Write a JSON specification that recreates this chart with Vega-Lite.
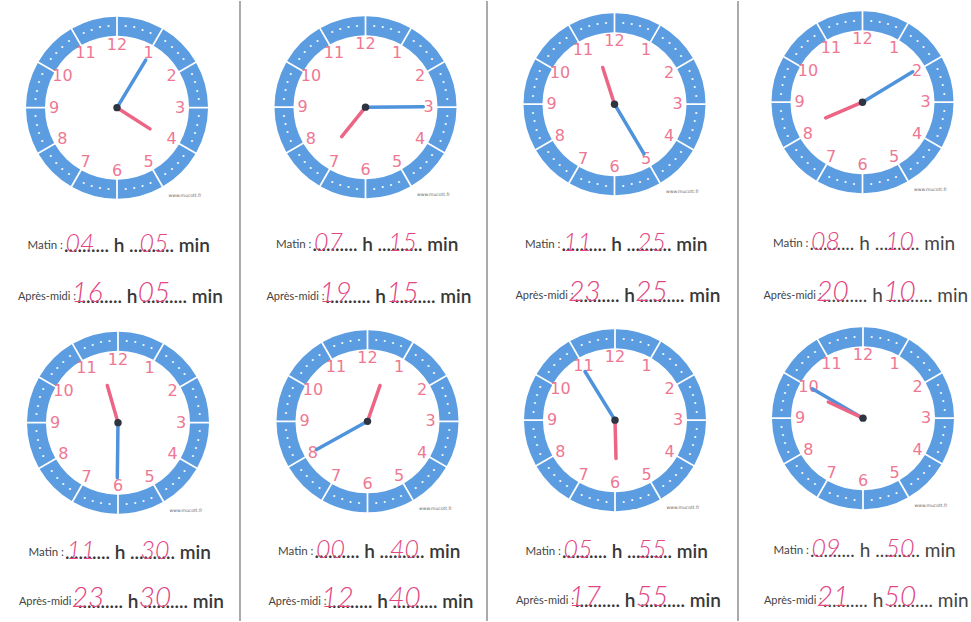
{
  "$schema": "https://vega.github.io/schema/vega-lite/v6.json",
  "width": 971,
  "height": 622,
  "autosize": {"type": "fit", "contains": "padding"},
  "padding": 0,
  "background": "white",
  "config": {"view": {"stroke": null}},
  "datasets": {
    "clocks": [
      {"id": 1, "cx": 117, "cy": 107, "mx": 145.7, "my": 59.3, "hx": 150, "hy": 128.3, "ah": "04", "am": "05", "bh": "16", "bm": "05", "ya": 246, "yb": 297},
      {"id": 2, "cx": 365.5, "cy": 106.5, "mx": 423.3, "my": 106, "hx": 341.7, "hy": 136, "ah": "07", "am": "15", "bh": "19", "bm": "15", "ya": 245, "yb": 296.7},
      {"id": 3, "cx": 614.5, "cy": 103.5, "mx": 644, "my": 153.3, "hx": 602.7, "hy": 66.7, "ah": "11", "am": "25", "bh": "23", "bm": "25", "ya": 244.3, "yb": 296},
      {"id": 4, "cx": 862.5, "cy": 101.5, "mx": 912.7, "my": 71, "hx": 825.7, "hy": 117.3, "ah": "08", "am": "10", "bh": "20", "bm": "10", "ya": 243.3, "yb": 295.7},
      {"id": 5, "cx": 118, "cy": 423, "mx": 117.3, "my": 478.3, "hx": 107.3, "hy": 385.7, "ah": "11", "am": "30", "bh": "23", "bm": "30", "ya": 553.3, "yb": 602.7},
      {"id": 6, "cx": 367.5, "cy": 421.7, "mx": 316.7, "my": 450, "hx": 380, "hy": 385.7, "ah": "00", "am": "40", "bh": "12", "bm": "40", "ya": 553, "yb": 602.7},
      {"id": 7, "cx": 615, "cy": 420.5, "mx": 585, "my": 371.7, "hx": 616, "hy": 459, "ah": "05", "am": "55", "bh": "17", "bm": "55", "ya": 552.3, "yb": 601.7},
      {"id": 8, "cx": 863, "cy": 418.5, "mx": 812.3, "my": 389, "hx": 828.3, "hy": 402.3, "ah": "09", "am": "50", "bh": "21", "bm": "50", "ya": 551.7, "yb": 601.7}
    ],
    "five": [
      {"m": 0, "n": 12, "e": 5, "c": [1,2,3,4,5,6,7,8]},
      {"m": 5, "n": 1, "e": 10, "c": [1,2,3,4,5,6,7,8]},
      {"m": 10, "n": 2, "e": 15, "c": [1,2,3,4,5,6,7,8]},
      {"m": 15, "n": 3, "e": 20, "c": [1,2,3,4,5,6,7,8]},
      {"m": 20, "n": 4, "e": 25, "c": [1,2,3,4,5,6,7,8]},
      {"m": 25, "n": 5, "e": 30, "c": [1,2,3,4,5,6,7,8]},
      {"m": 30, "n": 6, "e": 35, "c": [1,2,3,4,5,6,7,8]},
      {"m": 35, "n": 7, "e": 40, "c": [1,2,3,4,5,6,7,8]},
      {"m": 40, "n": 8, "e": 45, "c": [1,2,3,4,5,6,7,8]},
      {"m": 45, "n": 9, "e": 50, "c": [1,2,3,4,5,6,7,8]},
      {"m": 50, "n": 10, "e": 55, "c": [1,2,3,4,5,6,7,8]},
      {"m": 55, "n": 11, "e": 60, "c": [1,2,3,4,5,6,7,8]}
    ],
    "dots": [
      {"m": 1, "c": [1,2,3,4,5,6,7,8]}, {"m": 2, "c": [1,2,3,4,5,6,7,8]}, {"m": 3, "c": [1,2,3,4,5,6,7,8]}, {"m": 4, "c": [1,2,3,4,5,6,7,8]},
      {"m": 6, "c": [1,2,3,4,5,6,7,8]}, {"m": 7, "c": [1,2,3,4,5,6,7,8]}, {"m": 8, "c": [1,2,3,4,5,6,7,8]}, {"m": 9, "c": [1,2,3,4,5,6,7,8]},
      {"m": 11, "c": [1,2,3,4,5,6,7,8]}, {"m": 12, "c": [1,2,3,4,5,6,7,8]}, {"m": 13, "c": [1,2,3,4,5,6,7,8]}, {"m": 14, "c": [1,2,3,4,5,6,7,8]},
      {"m": 16, "c": [1,2,3,4,5,6,7,8]}, {"m": 17, "c": [1,2,3,4,5,6,7,8]}, {"m": 18, "c": [1,2,3,4,5,6,7,8]}, {"m": 19, "c": [1,2,3,4,5,6,7,8]},
      {"m": 21, "c": [1,2,3,4,5,6,7,8]}, {"m": 22, "c": [1,2,3,4,5,6,7,8]}, {"m": 23, "c": [1,2,3,4,5,6,7,8]}, {"m": 24, "c": [1,2,3,4,5,6,7,8]},
      {"m": 26, "c": [1,2,3,4,5,6,7,8]}, {"m": 27, "c": [1,2,3,4,5,6,7,8]}, {"m": 28, "c": [1,2,3,4,5,6,7,8]}, {"m": 29, "c": [1,2,3,4,5,6,7,8]},
      {"m": 31, "c": [1,2,3,4,5,6,7,8]}, {"m": 32, "c": [1,2,3,4,5,6,7,8]}, {"m": 33, "c": [1,2,3,4,5,6,7,8]}, {"m": 34, "c": [1,2,3,4,5,6,7,8]},
      {"m": 36, "c": [1,2,3,4,5,6,7,8]}, {"m": 37, "c": [1,2,3,4,5,6,7,8]}, {"m": 38, "c": [1,2,3,4,5,6,7,8]}, {"m": 39, "c": [1,2,3,4,5,6,7,8]},
      {"m": 41, "c": [1,2,3,4,5,6,7,8]}, {"m": 42, "c": [1,2,3,4,5,6,7,8]}, {"m": 43, "c": [1,2,3,4,5,6,7,8]}, {"m": 44, "c": [1,2,3,4,5,6,7,8]},
      {"m": 46, "c": [1,2,3,4,5,6,7,8]}, {"m": 47, "c": [1,2,3,4,5,6,7,8]}, {"m": 48, "c": [1,2,3,4,5,6,7,8]}, {"m": 49, "c": [1,2,3,4,5,6,7,8]},
      {"m": 51, "c": [1,2,3,4,5,6,7,8]}, {"m": 52, "c": [1,2,3,4,5,6,7,8]}, {"m": 53, "c": [1,2,3,4,5,6,7,8]}, {"m": 54, "c": [1,2,3,4,5,6,7,8]},
      {"m": 56, "c": [1,2,3,4,5,6,7,8]}, {"m": 57, "c": [1,2,3,4,5,6,7,8]}, {"m": 58, "c": [1,2,3,4,5,6,7,8]}, {"m": 59, "c": [1,2,3,4,5,6,7,8]}
    ],
    "seps": [{"x": 240}, {"x": 487}, {"x": 738}]
  },
  "layer": [
    {
      "data": {"name": "seps"},
      "mark": {"type": "rule", "stroke": "#7d7d7d", "strokeWidth": 1.3},
      "encoding": {
        "x": {"field": "x", "type": "quantitative", "scale": {"domain": [0, 971], "nice": false, "zero": false}, "axis": null}
      }
    },
    {
      "data": {"name": "five"},
      "transform": [
        {"flatten": ["c"]},
        {"lookup": "c", "from": {"data": {"name": "clocks"}, "key": "id", "fields": ["cx", "cy"]}}
      ],
      "mark": {"type": "arc", "radius": 91, "radius2": 72, "padAngle": 0.015, "fill": "#5b9de0"},
      "encoding": {
        "x": {"field": "cx", "type": "quantitative", "scale": {"domain": [0, 971], "nice": false, "zero": false}, "axis": null},
        "y": {"field": "cy", "type": "quantitative", "scale": {"domain": [0, 622], "nice": false, "zero": false, "reverse": true}, "axis": null},
        "theta": {"field": "m", "type": "quantitative", "stack": null, "scale": {"domain": [0, 60], "range": [0, 6.283185]}},
        "theta2": {"field": "e"}
      }
    },
    {
      "data": {"name": "dots"},
      "transform": [
        {"flatten": ["c"]},
        {"lookup": "c", "from": {"data": {"name": "clocks"}, "key": "id", "fields": ["cx", "cy"]}}
      ],
      "mark": {"type": "text", "text": "•", "fontSize": 6.5, "fill": "white", "radius": 82, "align": "center", "baseline": "middle"},
      "encoding": {
        "x": {"field": "cx", "type": "quantitative", "scale": {"domain": [0, 971], "nice": false, "zero": false}, "axis": null},
        "y": {"field": "cy", "type": "quantitative", "scale": {"domain": [0, 622], "nice": false, "zero": false, "reverse": true}, "axis": null},
        "theta": {"field": "m", "type": "quantitative", "stack": null, "scale": {"domain": [0, 60], "range": [0, 6.283185]}}
      }
    },
    {
      "data": {"name": "five"},
      "transform": [
        {"flatten": ["c"]},
        {"lookup": "c", "from": {"data": {"name": "clocks"}, "key": "id", "fields": ["cx", "cy"]}}
      ],
      "mark": {"type": "text", "fontSize": 16, "font": "DejaVu Sans", "fill": "#ee7893", "radius": 63, "align": "center", "baseline": "middle"},
      "encoding": {
        "x": {"field": "cx", "type": "quantitative", "scale": {"domain": [0, 971], "nice": false, "zero": false}, "axis": null},
        "y": {"field": "cy", "type": "quantitative", "scale": {"domain": [0, 622], "nice": false, "zero": false, "reverse": true}, "axis": null},
        "theta": {"field": "m", "type": "quantitative", "stack": null, "scale": {"domain": [0, 60], "range": [0, 6.283185]}},
        "text": {"field": "n"}
      }
    },
    {
      "data": {"name": "clocks"},
      "mark": {"type": "rule", "stroke": "#4f93dc", "strokeWidth": 3.5, "strokeCap": "round"},
      "encoding": {
        "x": {"field": "cx", "type": "quantitative", "scale": {"domain": [0, 971], "nice": false, "zero": false}, "axis": null},
        "y": {"field": "cy", "type": "quantitative", "scale": {"domain": [0, 622], "nice": false, "zero": false, "reverse": true}, "axis": null},
        "x2": {"field": "mx"},
        "y2": {"field": "my"}
      }
    },
    {
      "data": {"name": "clocks"},
      "mark": {"type": "rule", "stroke": "#ec6585", "strokeWidth": 3.5, "strokeCap": "round"},
      "encoding": {
        "x": {"field": "cx", "type": "quantitative", "scale": {"domain": [0, 971], "nice": false, "zero": false}, "axis": null},
        "y": {"field": "cy", "type": "quantitative", "scale": {"domain": [0, 622], "nice": false, "zero": false, "reverse": true}, "axis": null},
        "x2": {"field": "hx"},
        "y2": {"field": "hy"}
      }
    },
    {
      "data": {"name": "clocks"},
      "mark": {"type": "point", "filled": true, "size": 55, "fill": "#2e3440", "opacity": 1},
      "encoding": {
        "x": {"field": "cx", "type": "quantitative", "scale": {"domain": [0, 971], "nice": false, "zero": false}, "axis": null},
        "y": {"field": "cy", "type": "quantitative", "scale": {"domain": [0, 622], "nice": false, "zero": false, "reverse": true}, "axis": null}
      }
    },
    {
      "data": {"name": "clocks"},
      "mark": {"type": "text", "text": "www.mucott.fr", "fontSize": 4.5, "fill": "#666", "dx": 68, "dy": 88, "align": "center", "font": "DejaVu Sans"},
      "encoding": {
        "x": {"field": "cx", "type": "quantitative", "scale": {"domain": [0, 971], "nice": false, "zero": false}, "axis": null},
        "y": {"field": "cy", "type": "quantitative", "scale": {"domain": [0, 622], "nice": false, "zero": false, "reverse": true}, "axis": null}
      }
    },
    {
      "data": {"name": "clocks"},
      "mark": {"type": "text", "text": "Matin :", "fontSize": 11.5, "font": "Lato", "fill": "#444", "align": "right", "dx": -54},
      "encoding": {
        "x": {"field": "cx", "type": "quantitative", "scale": {"domain": [0, 971], "nice": false, "zero": false}, "axis": null},
        "y": {"field": "ya", "type": "quantitative", "scale": {"domain": [0, 622], "nice": false, "zero": false, "reverse": true}, "axis": null}
      }
    },
    {
      "data": {"name": "clocks"},
      "transform": [{"filter": "datum.id % 4 != 0"}],
      "mark": {"type": "text", "text": ".......... h .......... min", "fontSize": 19, "font": "Lato", "fontWeight": 600, "fill": "#383838", "align": "left", "dx": -53},
      "encoding": {
        "x": {"field": "cx", "type": "quantitative", "scale": {"domain": [0, 971], "nice": false, "zero": false}, "axis": null},
        "y": {"field": "ya", "type": "quantitative", "scale": {"domain": [0, 622], "nice": false, "zero": false, "reverse": true}, "axis": null}
      }
    },
    {
      "data": {"name": "clocks"},
      "transform": [{"filter": "datum.id % 4 == 0"}],
      "mark": {"type": "text", "text": ".......... h .......... min", "fontSize": 19, "font": "Lato", "fontWeight": 400, "fill": "#444", "align": "left", "dx": -53},
      "encoding": {
        "x": {"field": "cx", "type": "quantitative", "scale": {"domain": [0, 971], "nice": false, "zero": false}, "axis": null},
        "y": {"field": "ya", "type": "quantitative", "scale": {"domain": [0, 622], "nice": false, "zero": false, "reverse": true}, "axis": null}
      }
    },
    {
      "data": {"name": "clocks"},
      "mark": {"type": "text", "text": "Après-midi :", "fontSize": 11, "font": "Lato", "fill": "#444", "align": "right", "dx": -41},
      "encoding": {
        "x": {"field": "cx", "type": "quantitative", "scale": {"domain": [0, 971], "nice": false, "zero": false}, "axis": null},
        "y": {"field": "yb", "type": "quantitative", "scale": {"domain": [0, 622], "nice": false, "zero": false, "reverse": true}, "axis": null}
      }
    },
    {
      "data": {"name": "clocks"},
      "transform": [{"filter": "datum.id % 4 != 0"}],
      "mark": {"type": "text", "text": ".......... h .......... min", "fontSize": 19, "font": "Lato", "fontWeight": 600, "fill": "#383838", "align": "left", "dx": -40},
      "encoding": {
        "x": {"field": "cx", "type": "quantitative", "scale": {"domain": [0, 971], "nice": false, "zero": false}, "axis": null},
        "y": {"field": "yb", "type": "quantitative", "scale": {"domain": [0, 622], "nice": false, "zero": false, "reverse": true}, "axis": null}
      }
    },
    {
      "data": {"name": "clocks"},
      "transform": [{"filter": "datum.id % 4 == 0"}],
      "mark": {"type": "text", "text": ".......... h .......... min", "fontSize": 19, "font": "Lato", "fontWeight": 400, "fill": "#444", "align": "left", "dx": -40},
      "encoding": {
        "x": {"field": "cx", "type": "quantitative", "scale": {"domain": [0, 971], "nice": false, "zero": false}, "axis": null},
        "y": {"field": "yb", "type": "quantitative", "scale": {"domain": [0, 622], "nice": false, "zero": false, "reverse": true}, "axis": null}
      }
    },
    {
      "data": {"name": "clocks"},
      "mark": {"type": "text", "fontSize": 25, "font": "Lato", "fontWeight": 300, "fontStyle": "italic", "fill": "#e2457f", "align": "center", "dx": -37, "dy": -2},
      "encoding": {
        "x": {"field": "cx", "type": "quantitative", "scale": {"domain": [0, 971], "nice": false, "zero": false}, "axis": null},
        "y": {"field": "ya", "type": "quantitative", "scale": {"domain": [0, 622], "nice": false, "zero": false, "reverse": true}, "axis": null},
        "text": {"field": "ah"}
      }
    },
    {
      "data": {"name": "clocks"},
      "mark": {"type": "text", "fontSize": 25, "font": "Lato", "fontWeight": 300, "fontStyle": "italic", "fill": "#e2457f", "align": "center", "dx": 37, "dy": -2},
      "encoding": {
        "x": {"field": "cx", "type": "quantitative", "scale": {"domain": [0, 971], "nice": false, "zero": false}, "axis": null},
        "y": {"field": "ya", "type": "quantitative", "scale": {"domain": [0, 622], "nice": false, "zero": false, "reverse": true}, "axis": null},
        "text": {"field": "am"}
      }
    },
    {
      "data": {"name": "clocks"},
      "mark": {"type": "text", "fontSize": 28, "font": "Lato", "fontWeight": 300, "fontStyle": "italic", "fill": "#e2457f", "align": "center", "dx": -30, "dy": -3},
      "encoding": {
        "x": {"field": "cx", "type": "quantitative", "scale": {"domain": [0, 971], "nice": false, "zero": false}, "axis": null},
        "y": {"field": "yb", "type": "quantitative", "scale": {"domain": [0, 622], "nice": false, "zero": false, "reverse": true}, "axis": null},
        "text": {"field": "bh"}
      }
    },
    {
      "data": {"name": "clocks"},
      "mark": {"type": "text", "fontSize": 28, "font": "Lato", "fontWeight": 300, "fontStyle": "italic", "fill": "#e2457f", "align": "center", "dx": 37, "dy": -3},
      "encoding": {
        "x": {"field": "cx", "type": "quantitative", "scale": {"domain": [0, 971], "nice": false, "zero": false}, "axis": null},
        "y": {"field": "yb", "type": "quantitative", "scale": {"domain": [0, 622], "nice": false, "zero": false, "reverse": true}, "axis": null},
        "text": {"field": "bm"}
      }
    }
  ]
}
